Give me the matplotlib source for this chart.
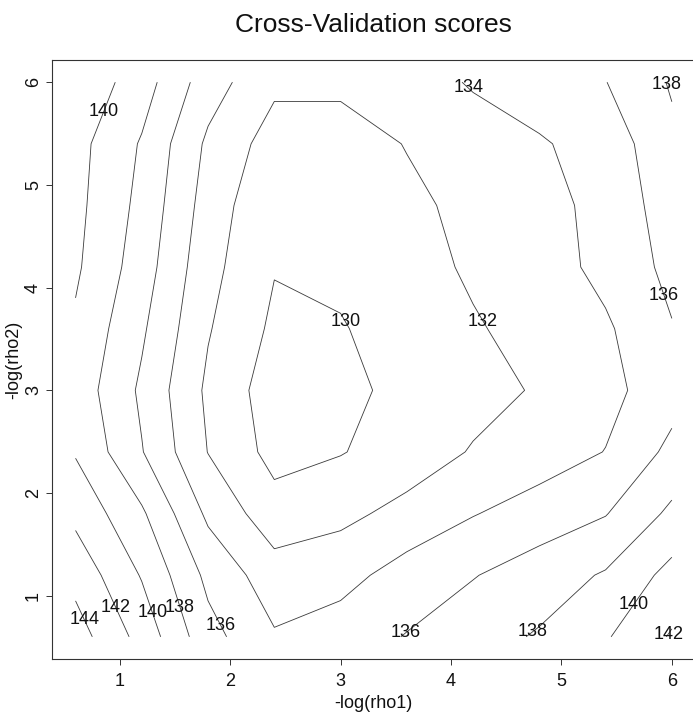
import matplotlib
matplotlib.use("Agg")
import matplotlib.pyplot as plt
import numpy as np

# grid of -log(rho1) and -log(rho2) values
rho1 = [0.6, 1.2, 1.8, 2.4, 3.0, 3.6, 4.2, 4.8, 5.4, 6.0]
rho2 = [0.6, 1.2, 1.8, 2.4, 3.0, 3.6, 4.2, 4.8, 5.4, 6.0]

# CV score, one row per rho2 value (bottom row first)
cv_y06 = [144.91, 141.31, 136.70, 134.20, 135.00, 136.10, 137.20, 138.20, 139.80, 142.20]
cv_y12 = [143.35, 139.85, 135.50, 132.90, 133.30, 134.86, 135.90, 137.00, 138.20, 140.65]
cv_y18 = [141.49, 138.30, 133.60, 130.80, 131.50, 132.60, 133.90, 134.90, 135.90, 138.42]
cv_y24 = [139.83, 136.10, 131.95, 129.35, 129.90, 130.90, 132.15, 133.00, 134.05, 136.50]
cv_y30 = [139.20, 135.65, 131.62, 128.99, 129.40, 130.64, 131.30, 132.20, 133.40, 135.20]
cv_y36 = [139.70, 136.30, 132.15, 129.62, 129.80, 131.30, 131.80, 132.72, 133.70, 135.90]
cv_y42 = [140.30, 137.00, 132.63, 130.10, 130.60, 131.20, 132.30, 133.00, 134.60, 136.50]
cv_y48 = [140.53, 137.44, 133.12, 130.26, 130.70, 131.50, 132.61, 133.50, 134.44, 137.12]
cv_y54 = [140.67, 137.81, 133.63, 131.12, 130.90, 132.10, 133.00, 133.80, 134.80, 137.57]
cv_y60 = [141.60, 138.93, 134.93, 132.40, 132.50, 133.00, 134.20, 135.00, 135.95, 138.20]

levels = [130, 132, 134, 136, 138, 140, 142, 144]

# roughly where each contour label sits (level, x, y)
label_spots = [
    (144, 0.69, 0.78), (142, 0.97, 0.89), (140, 1.30, 0.84), (138, 1.54, 0.88),
    (136, 1.89, 0.70), (136, 3.61, 0.62), (138, 4.74, 0.65), (140, 5.67, 0.89),
    (142, 6.01, 0.60), (130, 3.05, 3.67), (132, 4.28, 3.67), (134, 4.16, 5.95),
    (136, 5.94, 3.93), (138, 6.01, 6.00), (140, 0.86, 5.71),
]

plt.rcParams['font.family'] = ['Liberation Sans', 'DejaVu Sans']

cv = np.array([cv_y06, cv_y12, cv_y18, cv_y24, cv_y30,
               cv_y36, cv_y42, cv_y48, cv_y54, cv_y60])

fig = plt.figure(figsize=(6.93, 7.16), dpi=100)
ax = fig.add_axes([0.0746, 0.0796, 0.9293, 0.8366])

cs = ax.contour(rho1, rho2, cv, levels=levels, colors='#3a3a3a', linewidths=0.6)


def nearest_on_level(lev, px, py):
    # snap a label spot onto the drawn contour of that level
    best, best_d = (px, py), np.inf
    for seg in cs.allsegs[levels.index(lev)]:
        for (x0, y0), (x1, y1) in zip(seg[:-1], seg[1:]):
            t = np.linspace(0, 1, 30)
            xs = x0 + t * (x1 - x0)
            ys = y0 + t * (y1 - y0)
            d = (xs - px) ** 2 + (ys - py) ** 2
            i = np.argmin(d)
            if d[i] < best_d:
                best_d, best = d[i], (xs[i], ys[i])
    return best


span = rho1[-1] - rho1[0]
ax.set_xlim(rho1[0] - 0.04 * span, rho1[-1] + 0.04 * span)
ax.set_ylim(rho2[0] - 0.04 * span, rho2[-1] + 0.04 * span)

for lev, lx, ly in label_spots:
    sx, sy = nearest_on_level(lev, lx, ly)
    ax.text(sx, sy, str(lev), fontsize=13, ha='center', va='center',
            color='#111111', clip_on=False)

ax.set_xticks([1, 2, 3, 4, 5, 6])
ax.set_yticks([1, 2, 3, 4, 5, 6])
ax.tick_params(direction='out', length=4, width=0.7, labelsize=13,
               color='#333333', labelcolor='#111111')
ax.tick_params(axis='x', pad=6)
ax.tick_params(axis='y', pad=3)
for lab in ax.get_yticklabels():
    lab.set_rotation(90)
    lab.set_va('center')

for sp in ax.spines.values():
    sp.set_linewidth(0.8)
    sp.set_color('#333333')

ax.set_xlabel('-log(rho1)', fontsize=13, color='#111111')
ax.set_ylabel('-log(rho2)', fontsize=13, color='#111111')
ax.xaxis.set_label_coords(0.5, -0.06)
ax.yaxis.set_label_coords(-0.045, 0.5)

fig.text(0.539, 1 - 25 / 716, 'Cross-Validation scores', fontsize=19,
         ha='center', va='center', color='#111111')

fig.savefig('out.png', dpi=100)
